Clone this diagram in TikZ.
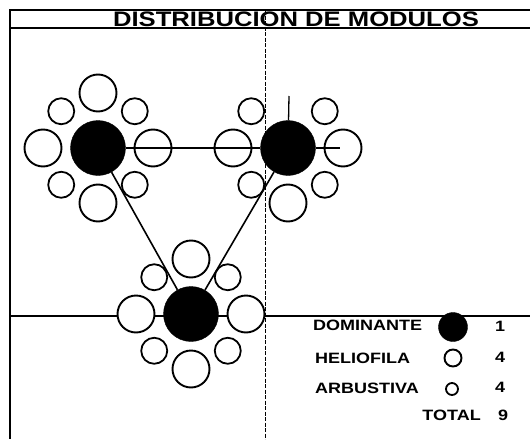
\documentclass[tikz,border=0pt]{standalone}
\usepackage{fontspec}
\setmainfont{Liberation Sans}
\usetikzlibrary{calc}
\newcommand{\widetext}[2][1.2]{\scalebox{#1}[1]{#2}}
\tikzset{
  dominante/.style={circle, fill=black, draw=black, minimum size=55pt, inner sep=0pt},
  heliofila/.style={circle, draw=black, fill=white, line width=1.9pt, minimum size=37pt, inner sep=0pt},
  arbustiva/.style={circle, draw=black, fill=white, line width=1.8pt, minimum size=26pt, inner sep=0pt},
  legendtext/.style={font=\bfseries\fontsize{15}{15}\selectfont, inner sep=0pt},
  link/.style={line width=1.6pt},
}
\begin{document}
\begin{tikzpicture}[x=1pt, y=-1pt]
 \useasboundingbox (0,0) rectangle (530,439);
 % frame and title band
 \draw[line width=2pt] (530,10) -| (10,439);
 \draw[line width=1.1pt] (10,28) -- (530,28);
 \node[font=\bfseries\fontsize{21}{21}\selectfont, inner sep=0pt] (title) at (296,19.5) {\widetext[1.22]{DISTRIBUCION DE MODULOS}};
 % axis lines
 \draw[line width=1pt, dash pattern=on 4pt off 1.5pt] (265,10) -- (265,439);
 \draw[line width=1.4pt] (10,316) -- (530,316);
 % centres of the modules
 \coordinate (cL) at (98,148);
 \coordinate (cR) at (288,148);
 \coordinate (cB) at (191,314);
 % satellites
 \foreach \d/\hlist in {L/{0,90,180,270}, R/{0,90,180}, B/{0,90,180,270}}{
   \foreach \a in \hlist
     \node[heliofila] (h\d\a) at ($(c\d)+(\a:55)$) {};
   \foreach \a in {45,135,225,315}
     \node[arbustiva] (a\d\a) at ($(c\d)+(\a:52)$) {};
 }
 % dominant trees
 \node[dominante] (domL) at (cL) {};
 \node[dominante] (domR) at (cR) {};
 \node[dominante] (domB) at (cB) {};
 % links
 \coordinate (tipR) at (340,148);
 \coordinate (tickR) at (289,96);
 \draw[link] (domL) -- (domR);
 \draw[link] (domR) -- (tipR);
 \draw[line width=1.3pt] (domR) -- (tickR);
 \draw[link] (domL) -- (domB);
 \draw[link] (domR) -- (domB);
 % legend
 \node[legendtext, anchor=west] (lgDom) at (313,325) {\widetext{DOMINANTE}};
 \node[dominante, minimum size=29pt] (symDom) at (453,327) {};
 \node[legendtext] (nDom) at (500,326) {\widetext{1}};
 \node[legendtext, anchor=west] (lgHel) at (315,358) {\widetext{HELIOFILA}};
 \node[heliofila, minimum size=17pt] (symHel) at (453,358) {};
 \node[legendtext] (nHel) at (500,357) {\widetext{4}};
 \node[legendtext, anchor=west] (lgArb) at (315,388) {\widetext{ARBUSTIVA}};
 \node[arbustiva, minimum size=12pt] (symArb) at (452,389) {};
 \node[legendtext] (nArb) at (500,387) {\widetext{4}};
 \node[legendtext, anchor=east] (lgTot) at (481,415) {\widetext{TOTAL}};
 \node[legendtext] (nTot) at (503,415) {\widetext{9}};
\end{tikzpicture}
\end{document}
